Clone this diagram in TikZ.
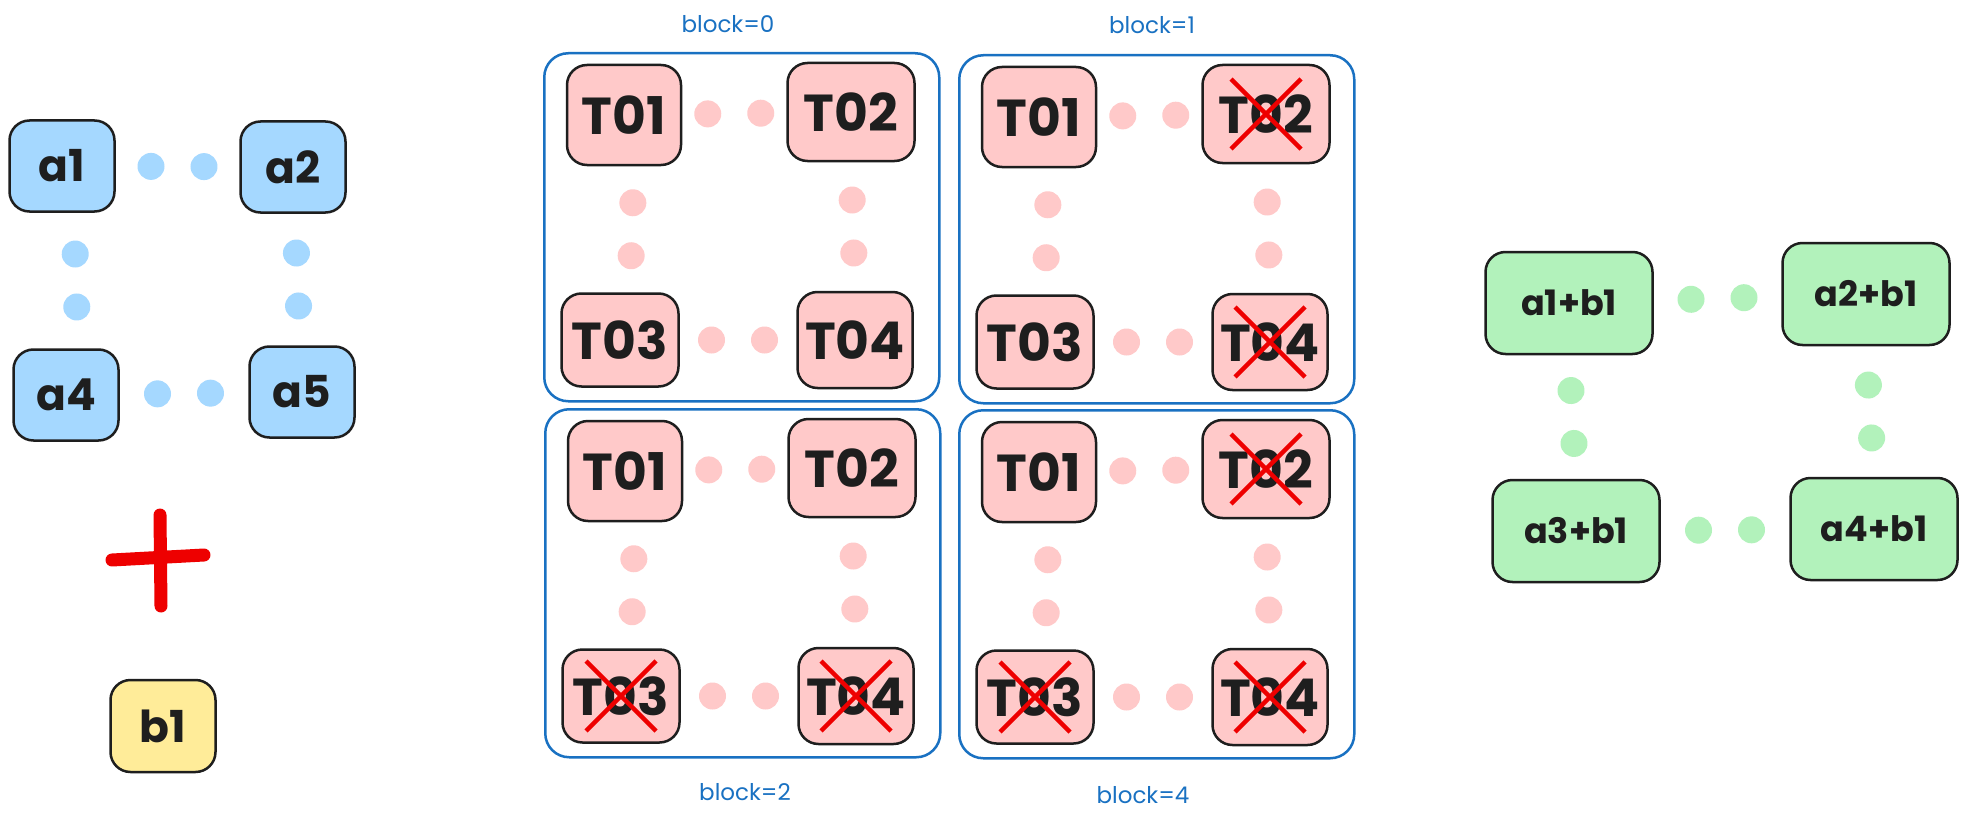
\documentclass[tikz,border=0pt]{standalone}
\usepackage{fontspec}
\setmainfont{Poppins}
\usetikzlibrary{calc,decorations.markings}
\definecolor{ink}{HTML}{1E1E1E}
\definecolor{bluefill}{HTML}{A5D8FF}
\definecolor{pinkfill}{HTML}{FFC9C9}
\definecolor{greenfill}{HTML}{B2F2BB}
\definecolor{yellowfill}{HTML}{FFEC99}
\definecolor{boxblue}{HTML}{1971C2}
\definecolor{xred}{HTML}{EE0000}
\tikzset{
  card/.style={draw=ink, line width=2.5pt, rounded corners=20pt, inner sep=0pt, text=ink},
  bluecard/.style={card, fill=bluefill, minimum width=105pt, minimum height=91pt, font=\fontsize{44}{50}\selectfont\bfseries},
  yellowcard/.style={card, fill=yellowfill, minimum width=105pt, minimum height=92pt, font=\fontsize{44}{50}\selectfont\bfseries},
  greencard/.style={card, fill=greenfill, minimum width=167pt, minimum height=102pt, font=\fontsize{35}{42}\selectfont\bfseries},
  tcard/.style={card, fill=pinkfill, font=\fontsize{52}{60}\selectfont\bfseries},
  tA/.style={tcard, minimum width=114pt, minimum height=100pt},
  tB/.style={tcard, minimum width=127pt, minimum height=98pt},
  tC/.style={tcard, minimum width=117pt, minimum height=93pt},
  tD/.style={tcard, minimum width=115pt, minimum height=96pt},
  blockframe/.style={draw=boxblue, line width=2.5pt, rounded corners=24pt, minimum width=395pt, minimum height=348pt, anchor=north west, inner sep=0pt},
  blocklabel/.style={text=boxblue, font=\fontsize{23}{28}\selectfont, inner sep=0pt},
  dotlink/.style={draw=none, postaction={decorate}, decoration={markings, mark=at position 0.5 with {\fill[#1] (-26.5,0) circle (13.5pt); \fill[#1] (26.5,0) circle (13.5pt);}}},
  xmark/.style={draw=xred, line width=4.5pt},
  plusbar/.style={draw=xred, line width=13pt, line cap=round}
}
\newcommand\strikenode[1]{%
  \draw[xmark] ([shift={(-35,-35)}]#1.center) -- ([shift={(35,35)}]#1.center);
  \draw[xmark] ([shift={(-35,35)}]#1.center) -- ([shift={(35,-35)}]#1.center);}
\begin{document}
\begin{tikzpicture}[x=1pt,y=-1pt]
\fill[white] (0,0) rectangle (1967,824);
\useasboundingbox (0,0) rectangle (1967,824);

% left: blue grid, plus, b1
\node[bluecard] (a1) at (62,166) {a1};
\node[bluecard] (a2) at (293,167) {a2};
\node[bluecard] (a4) at (66,395) {a4};
\node[bluecard] (a5) at (302,392) {a5};
\path[dotlink=bluefill] (a1) -- (a2);
\path[dotlink=bluefill] (a4) -- (a5);
\path[dotlink=bluefill] ([xshift=12]a1.south) -- ([xshift=12]a4.north);
\path[dotlink=bluefill] (a2) -- (a5);
\draw[plusbar] (160,515) -- (161,606);
\draw[plusbar] (112,560) -- (204,555);
\node[yellowcard] (b1) at (163,726) {b1};

% blocks
\node[blockframe] (B0) at (543,52) {};
\node[blocklabel] (L0) at (728,24) {block=0};
\begin{scope}[shift={(543,52)}]
\node[tA] (p0a) at (81,63) {T01};
\node[tB] (p0b) at (308,60) {T02};
\node[tC] (p0c) at (77,288) {T03};
\node[tD] (p0d) at (312,288) {T04};
\end{scope}

\node[blockframe] (B1) at (958,54) {};
\node[blocklabel] (L1) at (1152,25) {block=1};
\begin{scope}[shift={(958,54)}]
\node[tA] (p1a) at (81,63) {T01};
\node[tB] (p1b) at (308,60) {T02};
\node[tC] (p1c) at (77,288) {T03};
\node[tD] (p1d) at (312,288) {T04};
\end{scope}

\node[blockframe] (B2) at (544,408) {};
\node[blocklabel] (L2) at (745,792) {block=2};
\begin{scope}[shift={(544,408)}]
\node[tA] (p2a) at (81,63) {T01};
\node[tB] (p2b) at (308,60) {T02};
\node[tC] (p2c) at (77,288) {T03};
\node[tD] (p2d) at (312,288) {T04};
\end{scope}

\node[blockframe] (B4) at (958,409) {};
\node[blocklabel] (L4) at (1143,795) {block=4};
\begin{scope}[shift={(958,409)}]
\node[tA] (p4a) at (81,63) {T01};
\node[tB] (p4b) at (308,60) {T02};
\node[tC] (p4c) at (77,288) {T03};
\node[tD] (p4d) at (312,288) {T04};
\end{scope}

\foreach \b in {0,1,2,4}{
  \path[dotlink=pinkfill] (p\b a) -- (p\b b);
  \path[dotlink=pinkfill] (p\b c) -- (p\b d);
  \path[dotlink=pinkfill] ([xshift=10]p\b a.south) -- ([xshift=10]p\b c.north);
  \path[dotlink=pinkfill] (p\b b.south) -- (p\b d.north);
}

\strikenode{p1b}
\strikenode{p1d}
\strikenode{p2c}
\strikenode{p2d}
\strikenode{p4b}
\strikenode{p4c}
\strikenode{p4d}

% right: green grid
\node[greencard] (g1) at (1569,303) {a1+b1};
\node[greencard] (g2) at (1866,294) {a2+b1};
\node[greencard] (g3) at (1576,531) {a3+b1};
\node[greencard] (g4) at (1874,529) {a4+b1};
\path[dotlink=greenfill] (g1) -- (g2);
\path[dotlink=greenfill] (g3) -- (g4);
\path[dotlink=greenfill] (g1.south) -- (g3.north);
\path[dotlink=greenfill] (g2.south) -- (g4.north);
\end{tikzpicture}
\end{document}
